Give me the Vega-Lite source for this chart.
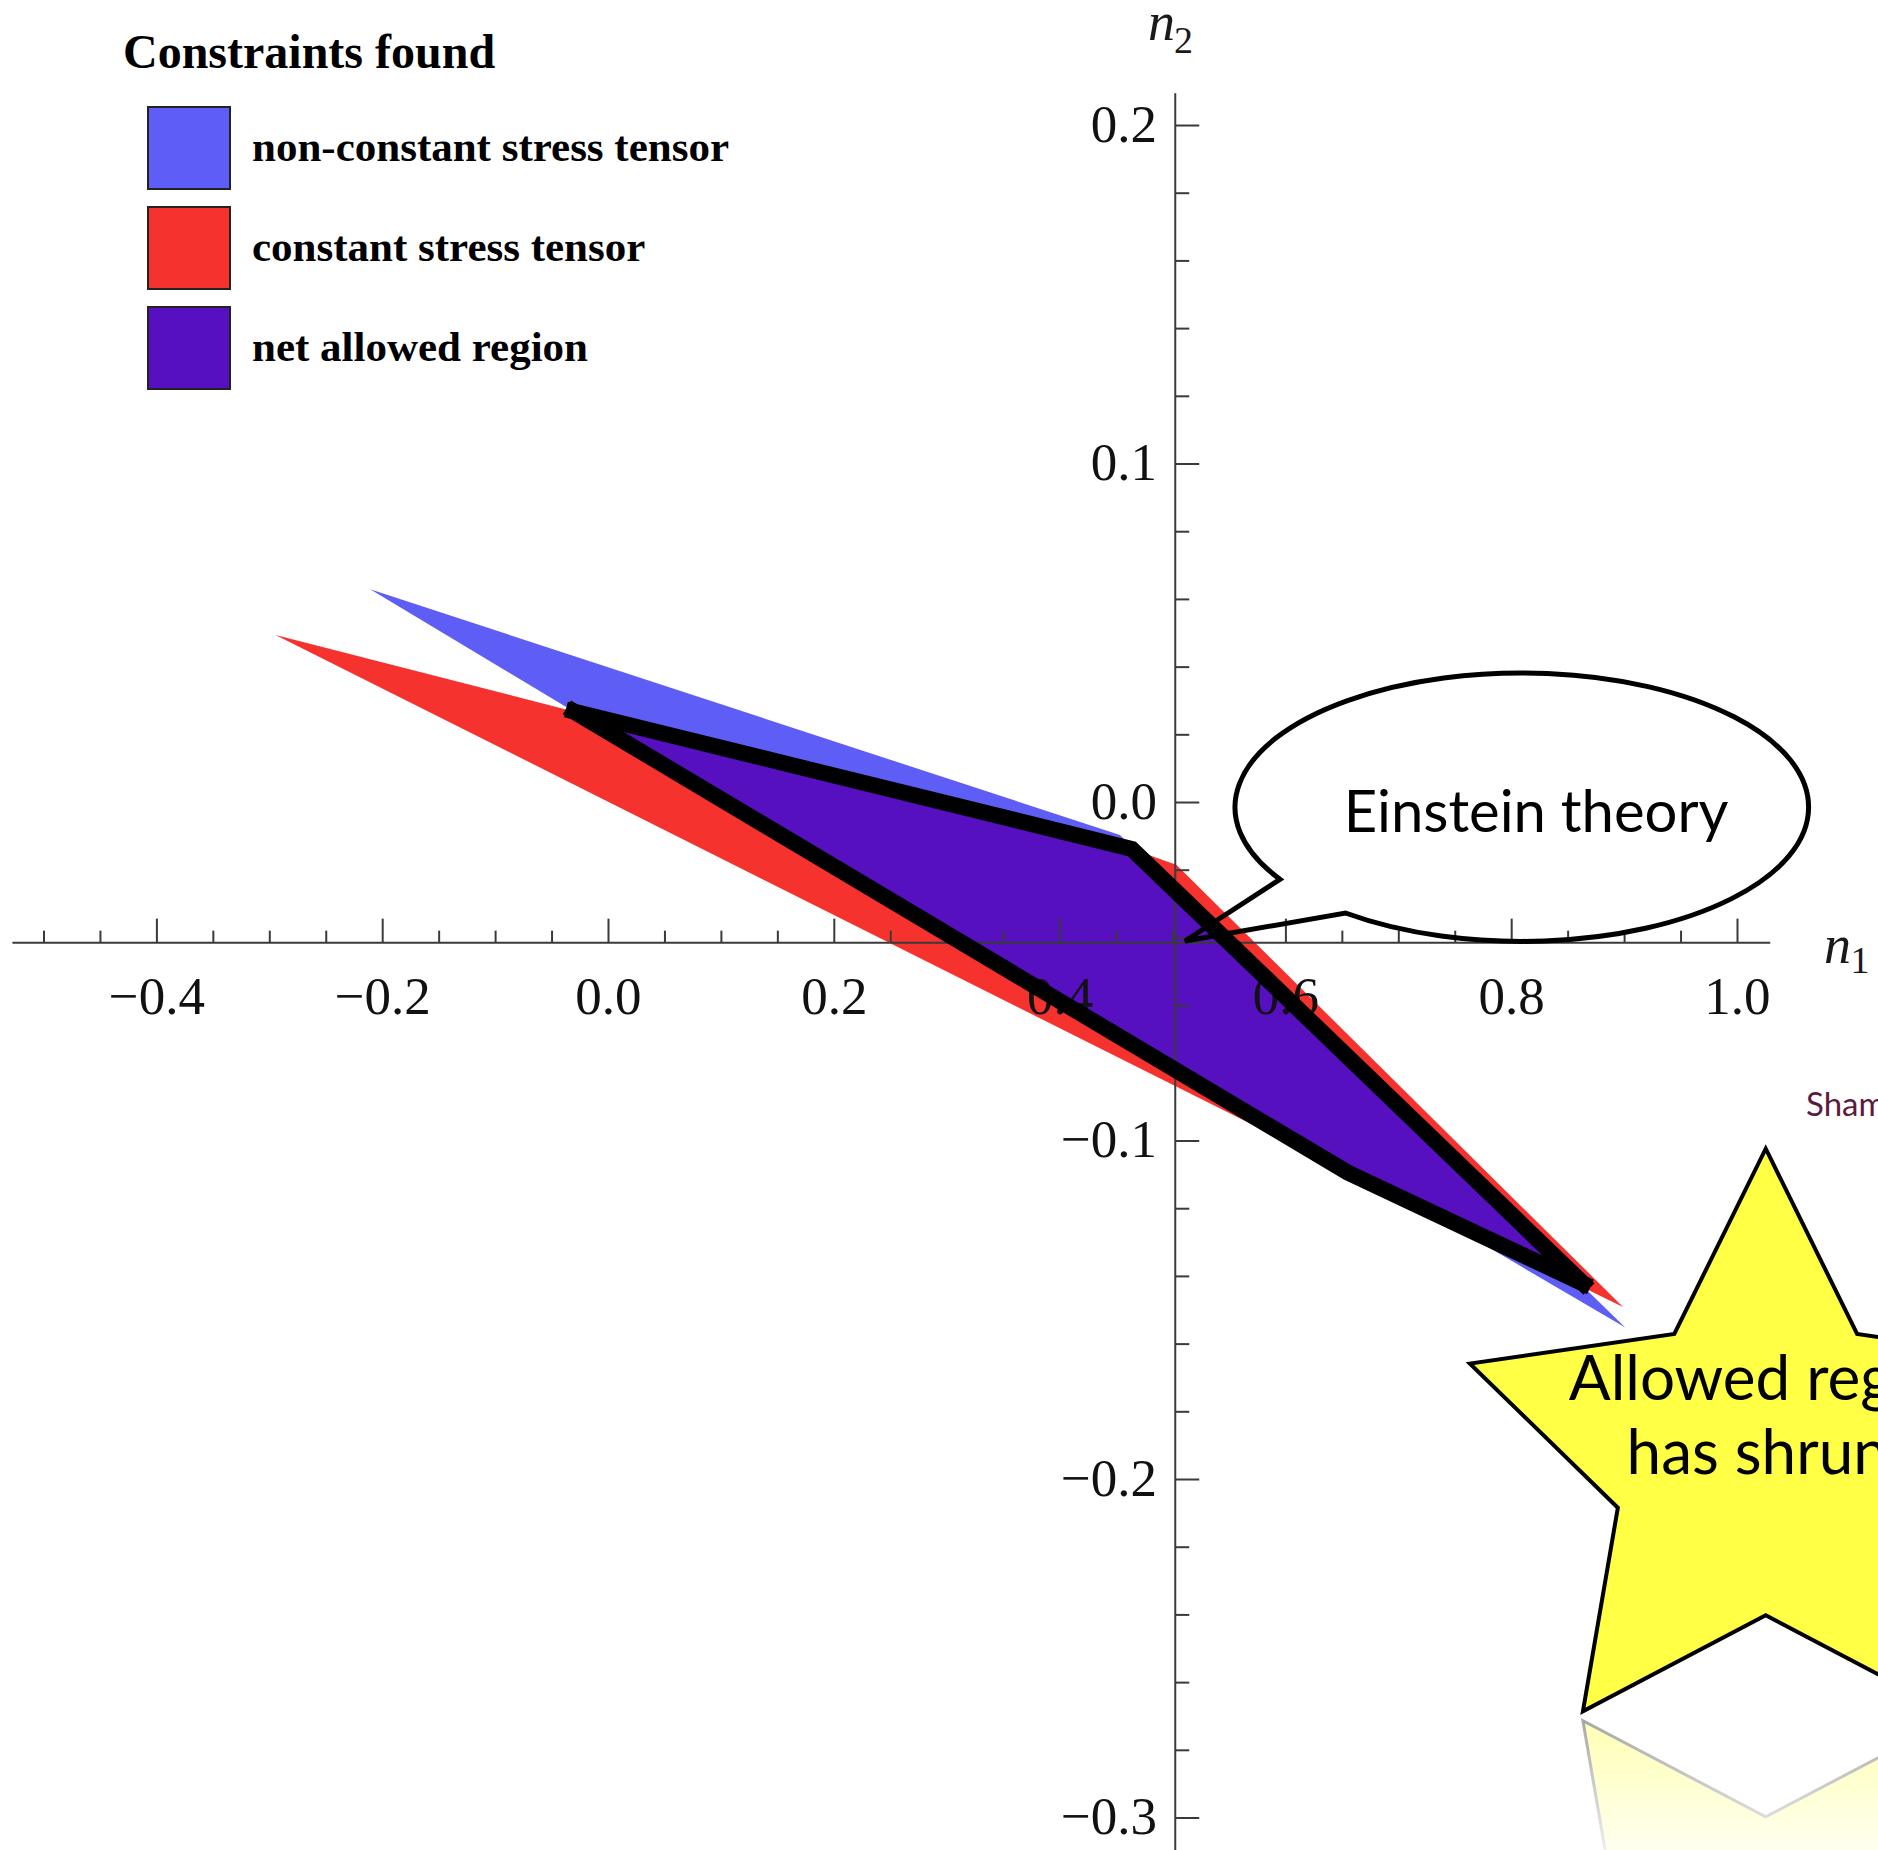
{
  "$schema": "https://vega.github.io/schema/vega-lite/v6.json",
  "width": 1878,
  "height": 1850,
  "padding": 0,
  "autosize": {"type": "none"},
  "background": "#ffffff",
  "config": {"view": {"stroke": null}},
  "datasets": {
    "regions": [
      {"region": "non-constant stress tensor", "i": 0, "n1": -0.2111, "n2": 0.0630},
      {"region": "non-constant stress tensor", "i": 1, "n1": 0.4530, "n2": -0.0096},
      {"region": "non-constant stress tensor", "i": 2, "n1": 0.9006, "n2": -0.1551},
      {"region": "non-constant stress tensor", "i": 3, "n1": -0.0308, "n2": 0.0269},
      {"region": "constant stress tensor", "i": 0, "n1": -0.2949, "n2": 0.0495},
      {"region": "constant stress tensor", "i": 1, "n1": -0.0308, "n2": 0.0269},
      {"region": "constant stress tensor", "i": 2, "n1": 0.4636, "n2": -0.0137},
      {"region": "constant stress tensor", "i": 3, "n1": 0.5029, "n2": -0.0184},
      {"region": "constant stress tensor", "i": 4, "n1": 0.8986, "n2": -0.1490},
      {"region": "constant stress tensor", "i": 5, "n1": 0.6546, "n2": -0.1093},
      {"region": "net allowed region", "i": 0, "n1": -0.0308, "n2": 0.0269},
      {"region": "net allowed region", "i": 1, "n1": 0.4636, "n2": -0.0137},
      {"region": "net allowed region", "i": 2, "n1": 0.8633, "n2": -0.1421},
      {"region": "net allowed region", "i": 3, "n1": 0.6546, "n2": -0.1093}
    ],
    "outline": [
      {"edge": "upper", "i": 0, "n1": -0.0308, "n2": 0.0269},
      {"edge": "upper", "i": 1, "n1": 0.4636, "n2": -0.0137},
      {"edge": "upper", "i": 2, "n1": 0.8633, "n2": -0.1421},
      {"edge": "lower", "i": 0, "n1": -0.0308, "n2": 0.0269},
      {"edge": "lower", "i": 1, "n1": 0.6546, "n2": -0.1093},
      {"edge": "lower", "i": 2, "n1": 0.8633, "n2": -0.1421}
    ],
    "axislines": [
      {"n1": -0.528, "n1b": 1.029, "n2": -0.0414, "n2b": -0.0414},
      {"n1": 0.502, "n1b": 0.502, "n2": 0.2095, "n2b": -0.3095}
    ],
    "xticks": [
      {"n1": -0.5, "n2": -0.0414, "kind": "minor"}, {"n1": -0.45, "n2": -0.0414, "kind": "minor"}, {"n1": -0.4, "n2": -0.0414, "kind": "major"},
      {"n1": -0.35, "n2": -0.0414, "kind": "minor"}, {"n1": -0.3, "n2": -0.0414, "kind": "minor"}, {"n1": -0.25, "n2": -0.0414, "kind": "minor"},
      {"n1": -0.2, "n2": -0.0414, "kind": "major"}, {"n1": -0.15, "n2": -0.0414, "kind": "minor"}, {"n1": -0.1, "n2": -0.0414, "kind": "minor"},
      {"n1": -0.05, "n2": -0.0414, "kind": "minor"}, {"n1": 0.0, "n2": -0.0414, "kind": "major"}, {"n1": 0.05, "n2": -0.0414, "kind": "minor"},
      {"n1": 0.1, "n2": -0.0414, "kind": "minor"}, {"n1": 0.15, "n2": -0.0414, "kind": "minor"}, {"n1": 0.2, "n2": -0.0414, "kind": "major"},
      {"n1": 0.25, "n2": -0.0414, "kind": "minor"}, {"n1": 0.3, "n2": -0.0414, "kind": "minor"}, {"n1": 0.35, "n2": -0.0414, "kind": "minor"},
      {"n1": 0.4, "n2": -0.0414, "kind": "major"}, {"n1": 0.45, "n2": -0.0414, "kind": "minor"}, {"n1": 0.5, "n2": -0.0414, "kind": "minor"},
      {"n1": 0.55, "n2": -0.0414, "kind": "minor"}, {"n1": 0.6, "n2": -0.0414, "kind": "major"}, {"n1": 0.65, "n2": -0.0414, "kind": "minor"},
      {"n1": 0.7, "n2": -0.0414, "kind": "minor"}, {"n1": 0.75, "n2": -0.0414, "kind": "minor"}, {"n1": 0.8, "n2": -0.0414, "kind": "major"},
      {"n1": 0.85, "n2": -0.0414, "kind": "minor"}, {"n1": 0.9, "n2": -0.0414, "kind": "minor"}, {"n1": 0.95, "n2": -0.0414, "kind": "minor"},
      {"n1": 1.0, "n2": -0.0414, "kind": "major"}
    ],
    "yticks": [
      {"n1": 0.502, "n2": 0.2, "kind": "major"}, {"n1": 0.502, "n2": 0.18, "kind": "minor"}, {"n1": 0.502, "n2": 0.16, "kind": "minor"},
      {"n1": 0.502, "n2": 0.14, "kind": "minor"}, {"n1": 0.502, "n2": 0.12, "kind": "minor"}, {"n1": 0.502, "n2": 0.1, "kind": "major"},
      {"n1": 0.502, "n2": 0.08, "kind": "minor"}, {"n1": 0.502, "n2": 0.06, "kind": "minor"}, {"n1": 0.502, "n2": 0.04, "kind": "minor"},
      {"n1": 0.502, "n2": 0.02, "kind": "minor"}, {"n1": 0.502, "n2": 0.0, "kind": "major"}, {"n1": 0.502, "n2": -0.02, "kind": "minor"},
      {"n1": 0.502, "n2": -0.04, "kind": "minor"}, {"n1": 0.502, "n2": -0.06, "kind": "minor"}, {"n1": 0.502, "n2": -0.08, "kind": "minor"},
      {"n1": 0.502, "n2": -0.1, "kind": "major"}, {"n1": 0.502, "n2": -0.12, "kind": "minor"}, {"n1": 0.502, "n2": -0.14, "kind": "minor"},
      {"n1": 0.502, "n2": -0.16, "kind": "minor"}, {"n1": 0.502, "n2": -0.18, "kind": "minor"}, {"n1": 0.502, "n2": -0.2, "kind": "major"},
      {"n1": 0.502, "n2": -0.22, "kind": "minor"}, {"n1": 0.502, "n2": -0.24, "kind": "minor"}, {"n1": 0.502, "n2": -0.26, "kind": "minor"},
      {"n1": 0.502, "n2": -0.28, "kind": "minor"}, {"n1": 0.502, "n2": -0.3, "kind": "major"}
    ],
    "xlabels": [
      {"n1": -0.4, "n2": -0.05775, "label": "−0.4"}, {"n1": -0.2, "n2": -0.05775, "label": "−0.2"}, {"n1": 0.0, "n2": -0.05775, "label": "0.0"},
      {"n1": 0.2, "n2": -0.05775, "label": "0.2"}, {"n1": 0.4, "n2": -0.05775, "label": "0.4"}, {"n1": 0.6, "n2": -0.05775, "label": "0.6"},
      {"n1": 0.8, "n2": -0.05775, "label": "0.8"}, {"n1": 1.0, "n2": -0.05775, "label": "1.0"}
    ],
    "ylabels": [
      {"n1": 0.4859, "n2": 0.2, "label": "0.2"}, {"n1": 0.4859, "n2": 0.1, "label": "0.1"}, {"n1": 0.4859, "n2": 0.0, "label": "0.0"},
      {"n1": 0.4859, "n2": -0.1, "label": "−0.1"}, {"n1": 0.4859, "n2": -0.2, "label": "−0.2"}, {"n1": 0.4859, "n2": -0.3, "label": "−0.3"}
    ],
    "axistitles": [
      {"n1": 0.4898, "n2": 0.2253, "label": "n", "kind": "main"},
      {"n1": 0.5093, "n2": 0.2213, "label": "2", "kind": "sub"},
      {"n1": 1.0886, "n2": -0.0474, "label": "n", "kind": "main"},
      {"n1": 1.1085, "n2": -0.0504, "label": "1", "kind": "sub"}
    ],
    "notes": [
      {"key": "bubble", "n1": 0.8100, "n2": -0.00177},
      {"key": "einstein", "n1": 0.8216, "n2": -0.00863, "label": "Einstein theory"},
      {"key": "reflection", "n1": 1.0250, "n2": -0.3456},
      {"key": "star", "n1": 1.0250, "n2": -0.19415},
      {"key": "startext", "n1": 1.0314, "n2": -0.1765, "label": "Allowed region\nhas shrunk"},
      {"key": "sham", "n1": 1.0607, "n2": -0.0926, "label": "Sham"}
    ]
  },
  "encoding": {
    "x": {"field": "n1", "type": "quantitative", "scale": {"domain": [-0.53897, 1.12445], "nice": false, "zero": false}, "axis": null},
    "y": {"field": "n2", "type": "quantitative", "scale": {"domain": [-0.30945, 0.23708], "nice": false, "zero": false}, "axis": null}
  },
  "layer": [
    {
      "data": {"name": "regions"},
      "transform": [{"filter": "datum.region === 'non-constant stress tensor'"}],
      "mark": {"type": "line", "strokeWidth": 0, "stroke": "#222222"},
      "encoding": {
        "order": {"field": "i", "type": "quantitative"},
        "fill": {
          "field": "region", "type": "nominal",
          "scale": {"domain": ["non-constant stress tensor", "constant stress tensor", "net allowed region"], "range": ["#5E5EF6", "#F6322F", "#5610C0"]},
          "legend": {
            "title": "Constraints found",
            "orient": "none", "legendX": 123, "legendY": 30, "direction": "vertical", "padding": 0,
            "titleFont": "Liberation Serif", "titleFontSize": 48, "titleFontWeight": "bold", "titleColor": "#000000",
            "titlePadding": 28, "titleAnchor": "start", "titleBaseline": "top", "titleLimit": 1000,
            "symbolType": "square", "symbolSize": 6724, "symbolStrokeColor": "#222222", "symbolStrokeWidth": 2,
            "symbolOffset": 24, "symbolOpacity": 1,
            "labelFont": "Liberation Serif", "labelFontSize": 43, "labelFontWeight": "bold", "labelColor": "#000000",
            "labelOffset": 21, "labelLimit": 1000, "rowPadding": 10
          }
        }
      }
    },
    {
      "data": {"name": "regions"},
      "transform": [{"filter": "datum.region === 'constant stress tensor'"}],
      "mark": {"type": "line", "strokeWidth": 0, "stroke": "#222222"},
      "encoding": {
        "order": {"field": "i", "type": "quantitative"},
        "fill": {"field": "region", "type": "nominal"}
      }
    },
    {
      "data": {"name": "regions"},
      "transform": [{"filter": "datum.region === 'net allowed region'"}],
      "mark": {"type": "line", "strokeWidth": 0, "stroke": "#222222"},
      "encoding": {
        "order": {"field": "i", "type": "quantitative"},
        "fill": {"field": "region", "type": "nominal"}
      }
    },
    {
      "data": {"name": "axislines"},
      "mark": {"type": "rule", "color": "#3a3a3a", "strokeWidth": 2},
      "encoding": {"x2": {"field": "n1b"}, "y2": {"field": "n2b"}}
    },
    {
      "data": {"name": "xticks"},
      "transform": [{"filter": "datum.kind === 'major'"}],
      "mark": {"type": "tick", "orient": "vertical", "size": 24, "thickness": 2, "yOffset": -12, "color": "#3a3a3a", "opacity": 1}
    },
    {
      "data": {"name": "xticks"},
      "transform": [{"filter": "datum.kind === 'minor'"}],
      "mark": {"type": "tick", "orient": "vertical", "size": 12, "thickness": 2, "yOffset": -6, "color": "#3a3a3a", "opacity": 1}
    },
    {
      "data": {"name": "yticks"},
      "transform": [{"filter": "datum.kind === 'major'"}],
      "mark": {"type": "tick", "orient": "horizontal", "size": 24, "thickness": 2, "xOffset": 12, "color": "#3a3a3a", "opacity": 1}
    },
    {
      "data": {"name": "yticks"},
      "transform": [{"filter": "datum.kind === 'minor'"}],
      "mark": {"type": "tick", "orient": "horizontal", "size": 14, "thickness": 2, "xOffset": 7, "color": "#3a3a3a", "opacity": 1}
    },
    {
      "data": {"name": "xlabels"},
      "mark": {"type": "text", "font": "Liberation Serif", "fontSize": 53, "color": "#111111", "align": "center", "baseline": "middle"},
      "encoding": {"text": {"field": "label"}}
    },
    {
      "data": {"name": "ylabels"},
      "mark": {"type": "text", "font": "Liberation Serif", "fontSize": 53, "color": "#111111", "align": "right", "baseline": "middle"},
      "encoding": {"text": {"field": "label"}}
    },
    {
      "data": {"name": "axistitles"},
      "transform": [{"filter": "datum.kind === 'main'"}],
      "mark": {"type": "text", "font": "Liberation Serif", "fontSize": 54, "fontStyle": "italic", "color": "#1a1a1a", "align": "center", "baseline": "alphabetic"},
      "encoding": {"text": {"field": "label"}}
    },
    {
      "data": {"name": "axistitles"},
      "transform": [{"filter": "datum.kind === 'sub'"}],
      "mark": {"type": "text", "font": "Liberation Serif", "fontSize": 38, "color": "#1a1a1a", "align": "center", "baseline": "alphabetic"},
      "encoding": {"text": {"field": "label"}}
    },
    {
      "data": {"name": "outline"},
      "mark": {"type": "line", "color": "#000000", "strokeWidth": 16, "strokeCap": "square", "strokeJoin": "miter"},
      "encoding": {"detail": {"field": "edge"}, "order": {"field": "i", "type": "quantitative"}}
    },
    {
      "data": {"name": "notes"},
      "transform": [{"filter": "datum.key === 'bubble'"}],
      "mark": {"type": "point", "shape": "M -0.8473 0.2469 A 1 0.468 0 1 1 -0.6189 0.3644 L -1.1785 0.462 Z", "size": 329017, "filled": false, "stroke": "#000000", "strokeWidth": 5, "opacity": 1, "strokeJoin": "miter"}
    },
    {
      "data": {"name": "notes"},
      "transform": [{"filter": "datum.key === 'einstein'"}],
      "mark": {"type": "text", "font": "Lato", "fontSize": 58, "color": "#000000", "align": "center", "baseline": "alphabetic"},
      "encoding": {"text": {"field": "label"}}
    },
    {
      "data": {"name": "notes"},
      "transform": [{"filter": "datum.key === 'reflection'"}],
      "mark": {
        "type": "point",
        "shape": "M 0 1 L 0.2939 0.4045 L 0.9511 0.309 L 0.4755 -0.1545 L 0.5878 -0.809 L 0 -0.5 L -0.5878 -0.809 L -0.4755 -0.1545 L -0.9511 0.309 L -0.2939 0.4045 Z",
        "size": 386884, "filled": true, "opacity": 1, "strokeWidth": 3,
        "fill": {"gradient": "linear", "x1": 0, "y1": 0, "x2": 0, "y2": 1, "stops": [{"offset": 0, "color": "#FFFFB4"}, {"offset": 0.25, "color": "#FFFFF4"}, {"offset": 1, "color": "#FFFFFF"}]},
        "stroke": {"gradient": "linear", "x1": 0, "y1": 0, "x2": 0, "y2": 1, "stops": [{"offset": 0, "color": "#A8A8A8"}, {"offset": 0.25, "color": "#F4F4F4"}, {"offset": 1, "color": "#FFFFFF"}]}
      }
    },
    {
      "data": {"name": "notes"},
      "transform": [{"filter": "datum.key === 'star'"}],
      "mark": {
        "type": "point",
        "shape": "M 0 -1 L 0.2939 -0.4045 L 0.9511 -0.309 L 0.4755 0.1545 L 0.5878 0.809 L 0 0.5 L -0.5878 0.809 L -0.4755 0.1545 L -0.9511 -0.309 L -0.2939 -0.4045 Z",
        "size": 386884, "filled": true, "fill": "#FFFF45", "stroke": "#000000", "strokeWidth": 4, "opacity": 1, "strokeJoin": "miter"
      }
    },
    {
      "data": {"name": "notes"},
      "transform": [{"filter": "datum.key === 'startext'"}],
      "mark": {"type": "text", "font": "Lato", "fontSize": 62, "color": "#000000", "align": "center", "baseline": "alphabetic", "lineBreak": "\n", "lineHeight": 74},
      "encoding": {"text": {"field": "label"}}
    },
    {
      "data": {"name": "notes"},
      "transform": [{"filter": "datum.key === 'sham'"}],
      "mark": {"type": "text", "font": "Lato", "fontSize": 33, "color": "#5C1A3C", "align": "left", "baseline": "alphabetic"},
      "encoding": {"text": {"field": "label"}}
    }
  ]
}
